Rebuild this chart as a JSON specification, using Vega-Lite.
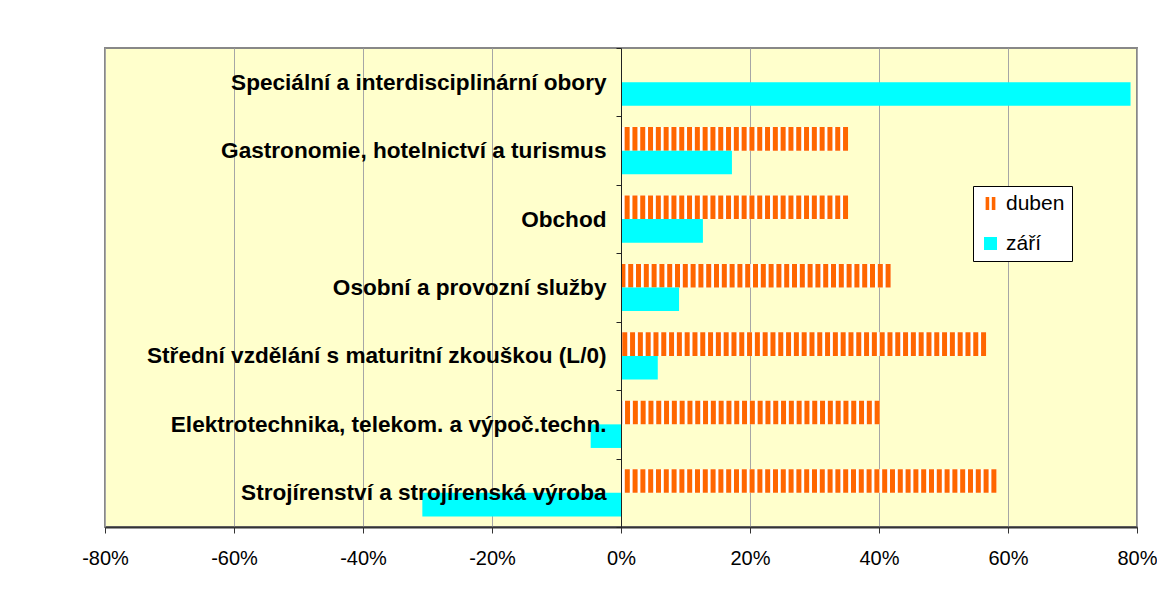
{
  "$schema": "https://vega.github.io/schema/vega-lite/v6.json",
  "width": 1032,
  "height": 479,
  "autosize": {"type": "none"},
  "padding": {"left": 105, "top": 48, "right": 20, "bottom": 69},
  "background": "white",
  "config": {
    "view": {"fill": "#FFFFCC", "stroke": "#888888", "strokeWidth": 2},
    "font": "Liberation Sans"
  },
  "data": {
    "values": [
      {"cat": "Speciální a interdisciplinární obory", "series": "září", "value": 0.79},
      {"cat": "Gastronomie, hotelnictví a turismus", "series": "duben", "value": 0.352},
      {"cat": "Gastronomie, hotelnictví a turismus", "series": "září", "value": 0.172},
      {"cat": "Obchod", "series": "duben", "value": 0.352},
      {"cat": "Obchod", "series": "září", "value": 0.127},
      {"cat": "Osobní a provozní služby", "series": "duben", "value": 0.418},
      {"cat": "Osobní a provozní služby", "series": "září", "value": 0.09},
      {"cat": "Střední vzdělání s maturitní zkouškou (L/0)", "series": "duben", "value": 0.566},
      {"cat": "Střední vzdělání s maturitní zkouškou (L/0)", "series": "září", "value": 0.057},
      {"cat": "Elektrotechnika, telekom. a výpoč.techn.", "series": "duben", "value": 0.401},
      {"cat": "Elektrotechnika, telekom. a výpoč.techn.", "series": "září", "value": -0.047},
      {"cat": "Strojírenství a strojírenská výroba", "series": "duben", "value": 0.582},
      {"cat": "Strojírenství a strojírenská výroba", "series": "září", "value": -0.308}
    ]
  },
  "encoding": {
    "y": {
      "field": "cat",
      "type": "nominal",
      "sort": [
        "Speciální a interdisciplinární obory",
        "Gastronomie, hotelnictví a turismus",
        "Obchod",
        "Osobní a provozní služby",
        "Střední vzdělání s maturitní zkouškou (L/0)",
        "Elektrotechnika, telekom. a výpoč.techn.",
        "Strojírenství a strojírenská výroba"
      ],
      "scale": {"paddingInner": 0, "paddingOuter": 0},
      "axis": {
        "title": null,
        "offset": -516,
        "zindex": 1,
        "domainColor": "#222222",
        "tickColor": "#222222",
        "tickSize": 5,
        "tickBand": "extent",
        "labelFontSize": 22.6,
        "labelFontWeight": "bold",
        "labelColor": "black",
        "labelPadding": 10,
        "labelLimit": 0,
        "grid": false
      }
    },
    "yOffset": {
      "field": "series",
      "type": "nominal",
      "scale": {"domain": ["duben", "září"], "paddingInner": 0, "paddingOuter": 0.45}
    },
    "x": {
      "field": "value",
      "type": "quantitative",
      "scale": {"domain": [-0.8, 0.8], "nice": false},
      "axis": {
        "title": null,
        "format": ".0%",
        "labelExpr": "replace(datum.label, '\u2212', '-')",
        "values": [-0.8, -0.6, -0.4, -0.2, 0, 0.2, 0.4, 0.6, 0.8],
        "grid": true,
        "gridColor": "#a6a6a6",
        "domainColor": "#333333",
        "domainWidth": 2,
        "tickColor": "#333333",
        "tickSize": 6,
        "labelFontSize": 20,
        "labelPadding": 15,
        "labelColor": "black",
        "labelFlush": false
      }
    },
    "x2": {"datum": 0}
  },
  "layer": [
    {
      "transform": [{"filter": "datum.series === 'duben'"}],
      "mark": {"type": "bar", "color": "white"}
    },
    {
      "transform": [{"filter": "datum.series === 'duben'"}],
      "mark": {"type": "rule", "strokeWidth": 23.6, "strokeDash": [5, 2.8], "strokeCap": "butt", "color": "#FF6600"}
    },
    {
      "transform": [{"filter": "datum.series === 'září'"}],
      "mark": {"type": "bar"},
      "encoding": {
        "color": {
          "field": "series",
          "type": "nominal",
          "scale": {"domain": ["duben", "září"], "range": ["#FF6600", "#00FFFF"]},
          "legend": {
            "title": null,
            "orient": "none",
            "legendX": 868,
            "legendY": 138,
            "fillColor": "white",
            "strokeColor": "black",
            "padding": 7,
            "symbolSize": 169,
            "symbolType": "square",
            "symbolStrokeWidth": 0,
            "labelFontSize": 21,
            "labelColor": "black",
            "labelOffset": 5,
            "rowPadding": 18,
            "encode": {
              "symbols": {
                "update": {
                  "shape": {"signal": "datum.value === 'duben' ? 'M-0.75,-1H-0.2V1H-0.75Z M0.2,-1H0.75V1H0.2Z' : 'square'"}
                }
              }
            }
          }
        }
      }
    }
  ]
}
